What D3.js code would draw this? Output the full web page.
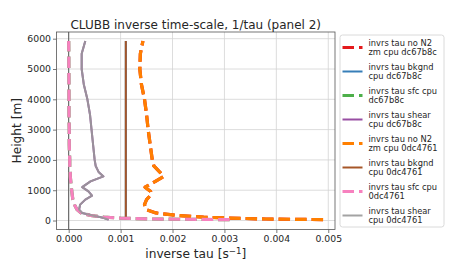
<!DOCTYPE html>
<html>
<head>
<meta charset="utf-8">
<script src="https://cdn.jsdelivr.net/npm/d3@7"></script>
<style>
  body { margin: 0; background: #fff; }
  text { font-family: "DejaVu Sans", sans-serif; fill: #262626; }
</style>
</head>
<body>
<div id="chart"></div>
<script>
// model levels [m]
const heights = [30, 50, 80, 110, 165, 250, 360, 525, 690, 820, 960, 1100, 1290, 1455, 1590, 1800, 2000, 2500, 3000, 3500, 4000, 4500, 5000, 5500, 5925];

// 0dc4761 profiles [1/s]
const noN2_0dc = [0.0049, 0.0038, 0.0031, 0.0026, 0.0021, 0.00168, 0.00149, 0.00146, 0.0015, 0.00157, 0.00158, 0.00147, 0.00167, 0.00183, 0.00176, 0.00164, 0.00161, 0.00157, 0.00153, 0.0015, 0.00146, 0.0014, 0.00137, 0.00138, 0.00143];
const bkgnd_0dc = [0.0011, 0.0011, 0.0011, 0.0011, 0.0011, 0.0011, 0.0011, 0.0011, 0.0011, 0.0011, 0.0011, 0.0011, 0.0011, 0.0011, 0.0011, 0.0011, 0.0011, 0.0011, 0.0011, 0.0011, 0.0011, 0.0011, 0.0011, 0.0011, 0.0011];
const sfc_0dc = [0.0031, 0.0016, 0.0010, 0.00068, 0.00042, 0.00024, 0.00016, 0.00011, 0.00008, 0.00007, 0.00006, 0.00005, 0.00004, 0.00003, 0.00003, 0.00002, 0.00002, 0.00001, 0.00001, 0.000005, 0.000005, 0.000005, 0.000003, 0.000002, 0.0];
const shear_0dc = [0.00077, 0.00073, 0.00068, 0.00062, 0.00046, 0.00026, 0.0002, 0.00022, 0.00032, 0.00045, 0.00038, 0.00026, 0.00042, 0.00067, 0.00058, 0.00052, 0.0005, 0.00047, 0.00044, 0.00041, 0.00036, 0.00029, 0.00025, 0.00025, 0.00032];

// dc67b8c profiles sit exactly under the 0dc4761 ones
const noN2_dc = noN2_0dc.slice();
const bkgnd_dc = bkgnd_0dc.slice();
const sfc_dc = sfc_0dc.slice();
const shear_dc = shear_0dc.slice();

const labels = [
  ['invrs tau no N2', 'zm cpu dc67b8c'],
  ['invrs tau bkgnd', 'cpu dc67b8c'],
  ['invrs tau sfc cpu', 'dc67b8c'],
  ['invrs tau shear', 'cpu dc67b8c'],
  ['invrs tau no N2', 'zm cpu 0dc4761'],
  ['invrs tau bkgnd', 'cpu 0dc4761'],
  ['invrs tau sfc cpu', '0dc4761'],
  ['invrs tau shear', 'cpu 0dc4761']
];
const xTicks = [0, 0.001, 0.002, 0.003, 0.004, 0.005];
const yTicks = [0, 1000, 2000, 3000, 4000, 5000, 6000];

const colors = ['#e41a1c', '#377eb8', '#4daf4a', '#984ea3', '#ff7f00', '#a65628', '#f781bf', '#999999'];
const dashed = [true, false, true, false, true, false, true, false];
const widths = [3.2, 2, 3.2, 2, 3.2, 2, 3.2, 2];
const alphas = [1, 1, 1, 1, 1, 1, 1, 0.9];
const seriesVals = [noN2_dc, bkgnd_dc, sfc_dc, shear_dc, noN2_0dc, bkgnd_0dc, sfc_0dc, shear_0dc];

const W = 450, H = 270;
const pl = 56.5, pr = 335, pt = 32, pb = 229.5;

const svg = d3.select('#chart').append('svg')
  .attr('width', W).attr('height', H);

const x = d3.scaleLinear().domain([-0.000235, 0.00513]).range([pl, pr]);
const y = d3.scaleLinear().domain([-296, 6221]).range([pb, pt]);

// grid
svg.append('g').selectAll('line').data(xTicks).enter().append('line')
  .attr('x1', d => x(d)).attr('x2', d => x(d))
  .attr('y1', pt).attr('y2', pb)
  .attr('stroke', '#d3d3d3').attr('stroke-width', 0.8);
svg.append('g').selectAll('line').data(yTicks).enter().append('line')
  .attr('x1', pl).attr('x2', pr)
  .attr('y1', d => y(d)).attr('y2', d => y(d))
  .attr('stroke', '#d3d3d3').attr('stroke-width', 0.8);

// zero line
svg.append('line')
  .attr('x1', x(0)).attr('x2', x(0)).attr('y1', pt).attr('y2', pb)
  .attr('stroke', '#555').attr('stroke-width', 1);

// profiles
const line = d3.line()
  .x(d => x(d[0]))
  .y(d => y(d[1]));

seriesVals.forEach((vals, i) => {
  const pts = vals.map((v, j) => [v, heights[j]]);
  svg.append('path')
    .attr('d', line(pts))
    .attr('fill', 'none')
    .attr('stroke', colors[i])
    .attr('stroke-opacity', alphas[i])
    .attr('stroke-width', widths[i])
    .attr('stroke-dasharray', dashed[i] ? '11.5,5' : null)
    .attr('stroke-linejoin', 'round');
});

// axes
const xAxis = svg.append('g')
  .attr('transform', `translate(0,${pb})`)
  .call(d3.axisBottom(x).tickValues(xTicks).tickFormat(d3.format('.3f')).tickSize(3.5).tickPadding(2));
const yAxis = svg.append('g')
  .attr('transform', `translate(${pl},0)`)
  .call(d3.axisLeft(y).tickValues(yTicks).tickFormat(d3.format('d')).tickSize(3.5).tickPadding(2));
[xAxis, yAxis].forEach(a => {
  a.select('.domain').remove();
  a.selectAll('.tick line').attr('stroke', '#555').attr('stroke-width', 0.8);
  a.selectAll('.tick text').style('font-family', '"DejaVu Sans", sans-serif')
    .style('font-size', '9.3px').attr('fill', '#262626');
});

svg.append('rect')
  .attr('x', pl).attr('y', pt)
  .attr('width', pr - pl).attr('height', pb - pt)
  .attr('fill', 'none').attr('stroke', '#555').attr('stroke-width', 0.8);

// titles
svg.append('text')
  .attr('x', (pl + pr) / 2).attr('y', 29)
  .attr('text-anchor', 'middle')
  .style('font-size', '12px')
  .text('CLUBB inverse time-scale, 1/tau (panel 2)');

const xl = svg.append('text')
  .attr('x', (pl + pr) / 2).attr('y', 258)
  .attr('text-anchor', 'middle')
  .style('font-size', '12.2px');
xl.append('tspan').text('inverse tau [s');
xl.append('tspan').attr('dy', -4.5).style('font-size', '8.6px').text('\u22121');
xl.append('tspan').attr('dy', 4.5).text(']');

svg.append('text')
  .attr('transform', `translate(20.5,${(pt + pb) / 2}) rotate(-90)`)
  .attr('text-anchor', 'middle')
  .style('font-size', '12.2px')
  .text('Height [m]');

// legend
const lg = svg.append('g');
lg.append('rect')
  .attr('x', 340).attr('y', 35).attr('width', 104).attr('height', 192)
  .attr('rx', 2.5)
  .attr('fill', 'rgba(255,255,255,0.9)')
  .attr('stroke', '#d0d0d0').attr('stroke-width', 0.8);

labels.forEach((lab, i) => {
  const cy = 47.5 + i * 24;
  lg.append('line')
    .attr('x1', 342.5).attr('x2', 362.5).attr('y1', cy).attr('y2', cy)
    .attr('stroke', colors[i])
    .attr('stroke-opacity', alphas[i])
    .attr('stroke-width', widths[i])
    .attr('stroke-dasharray', dashed[i] ? '11.5,5' : null);
  lab.forEach((t, k) => {
    lg.append('text')
      .attr('x', 368.5).attr('y', cy - 1.3 + k * 9.2)
      .style('font-size', '8.3px')
      .text(t);
  });
});
</script>
</body>
</html>
